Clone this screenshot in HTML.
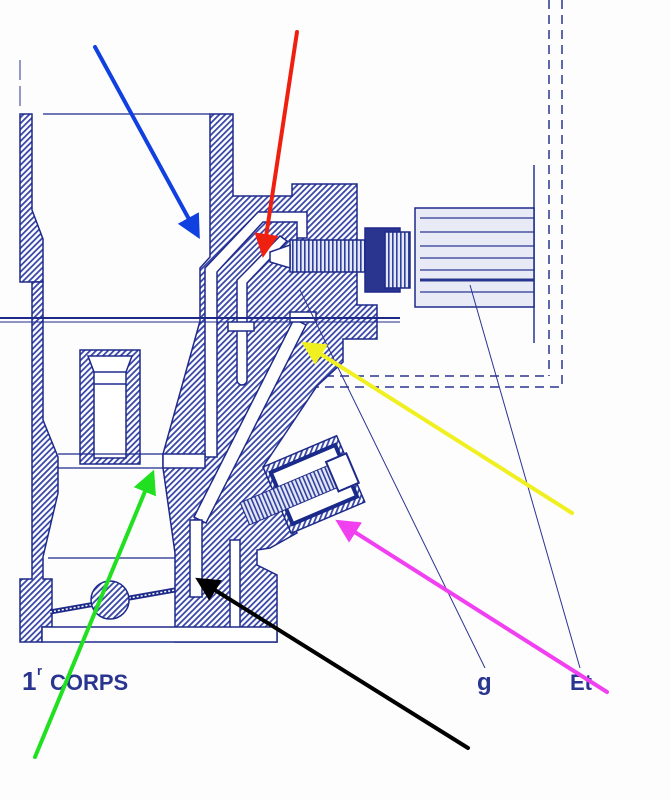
<!DOCTYPE html>
<html><head><style>body{margin:0;background:#fff}svg{display:block}</style></head><body>
<svg width="671" height="800" viewBox="0 0 671 800" xmlns="http://www.w3.org/2000/svg">
<defs>
<pattern id="h" width="4.2" height="4.2" patternUnits="userSpaceOnUse" patternTransform="rotate(45)">
<rect width="4.2" height="4.2" fill="#fff"/><rect width="1.8" height="4.2" fill="#3a48a8"/></pattern>
<pattern id="s" width="4" height="4" patternUnits="userSpaceOnUse">
<rect width="4" height="4" fill="#e4e7f4"/><rect width="1.6" height="4" fill="#3040a0"/></pattern>
<marker id="a" markerWidth="6" markerHeight="6" refX="4" refY="3" orient="auto"><path d="M0,0L6,3L0,6z" fill="context-stroke"/></marker>
</defs>
<rect width="671" height="800" fill="#fdfdfe"/>
<g stroke="#2a3590" stroke-width="1.5" fill="none" stroke-dasharray="9,6">
<line x1="549" y1="0" x2="549" y2="376"/><line x1="562" y1="0" x2="562" y2="387"/>
<line x1="250" y1="376" x2="549" y2="376"/><line x1="250" y1="387" x2="562" y2="387"/>
</g>
<line x1="534" y1="165" x2="534" y2="343" stroke="#2a3590" stroke-width="1.5"/>
<line x1="20" y1="60" x2="20" y2="110" stroke="#2a3590" stroke-width="1" stroke-dasharray="20,6"/>
<g stroke="#1e2a8a" stroke-width="1.5" fill="url(#h)">
<!-- left wall upper -->
<polygon points="20,114 32,114 32,210 43,239 43,282 32,282 20,282"/>
<!-- left wall lower -->
<polygon points="32,282 43,282 43,420 58,457 58,493 43,557 43,579 52,579 52,627 42,627 42,642 20,642 20,579 32,579"/>
<!-- main body -->
<polygon points="210,114 233,114 233,196 292,196 292,184 357,184 357,305 377,305 377,339 343,339 343,362 317,386 263,467 297,533 270,548 257,550 257,565 277,575 277,642 175,642 175,553 163,468 163,454 200,321 200,268 210,257"/>
<!-- small venturi -->
<polygon points="80,350 140,350 140,464 80,464"/>
</g>
<g stroke="#1e2a8a" stroke-width="1.5" fill="#fff">
<polygon points="88,356 132,356 126,372 126,458 94,458 94,372"/>
<line x1="94" y1="372" x2="126" y2="372"/>
<line x1="94" y1="384" x2="126" y2="384"/>
<!-- channels -->
<path d="M205,457 L205,268 L258,212 L307,212 L307,238 L297,238 L297,222 L263,222 L217,272 L217,457 Z"/>
<path d="M237,280 L247,270 L280,236 L287,241 L247,283 L247,380 A5,5 0 0 1 237,380 Z"/>
<polygon points="194,517 294,319 306,325 206,523"/>
<rect x="190" y="520" width="12" height="77"/>
<rect x="230" y="540" width="10" height="88"/>
<rect x="163" y="454" width="42" height="14"/>
<rect x="42" y="627" width="235" height="15"/>
<rect x="228" y="322" width="26" height="9"/>
<rect x="290" y="312" width="26" height="10"/>
</g>
<g stroke="#1e2a8a" stroke-width="1.3">
<line x1="58" y1="454" x2="163" y2="454"/>
<line x1="58" y1="468" x2="163" y2="468"/>
<line x1="48" y1="558" x2="175" y2="558"/>
<line x1="43" y1="114" x2="210" y2="114"/>
<line x1="0" y1="318" x2="400" y2="318" stroke-width="2"/>
<line x1="0" y1="322" x2="400" y2="322" stroke-width="1"/>
</g>
<!-- pump -->
<g transform="translate(263,467) rotate(-23)">
<rect x="0" y="0" width="80" height="72" fill="url(#h)" stroke="#1e2a8a" stroke-width="1.5"/>
<rect x="5" y="8" width="70" height="56" fill="#fff" stroke="#1a2a8a" stroke-width="4"/>
<rect x="-35" y="24" width="95" height="24" fill="url(#s)" stroke="#1e2a8a"/>
<rect x="60" y="20" width="22" height="32" fill="#fff" stroke="#1e2a8a" stroke-width="2"/>
</g>
<!-- screw assembly & cylinder -->
<g stroke="#1e2a8a" stroke-width="1.5">
<rect x="290" y="240" width="75" height="32" fill="url(#s)"/>
<polygon points="270,252 290,245 290,268 270,262" fill="#fff"/>
<rect x="365" y="228" width="35" height="64" fill="#2a3590"/>
<rect x="385" y="232" width="25" height="56" fill="url(#s)"/>
<rect x="415" y="208" width="119" height="99" fill="#e8ebf5"/>
</g>
<g stroke="#2a3590" stroke-width="1.3">
<line x1="420" y1="218" x2="534" y2="218"/><line x1="420" y1="232" x2="534" y2="232"/>
<line x1="420" y1="246" x2="534" y2="246"/><line x1="420" y1="258" x2="534" y2="258"/>
<line x1="420" y1="270" x2="534" y2="270"/><line x1="420" y1="280" x2="534" y2="280" stroke-width="3"/>
<line x1="420" y1="292" x2="534" y2="292"/>
</g>
<line x1="50" y1="612" x2="175" y2="590" stroke="#1e2a8a" stroke-width="5"/>
<line x1="50" y1="612" x2="175" y2="590" stroke="#fff" stroke-width="1.5" stroke-dasharray="2,2"/>
<circle cx="110" cy="600" r="19" fill="url(#h)" stroke="#1e2a8a" stroke-width="1.5"/>
<line x1="485" y1="668" x2="300" y2="290" stroke="#2a3590" stroke-width="1"/>
<line x1="580" y1="668" x2="470" y2="285" stroke="#2a3590" stroke-width="1"/>
<g font-family="Liberation Sans, sans-serif" font-weight="bold" fill="#2a3590">
<text x="22" y="690" font-size="26">1</text><text x="37" y="675" font-size="13">r</text>
<text x="50" y="690" font-size="22">CORPS</text>
<text x="477" y="690" font-size="24">g</text>
<text x="570" y="690" font-size="22">Et</text>
</g>
<g stroke-width="4" fill="none" stroke-linecap="round">
<line x1="95" y1="47" x2="196" y2="232" stroke="#1040e0" marker-end="url(#a)"/>
<line x1="297" y1="32" x2="264" y2="250" stroke="#f02010" marker-end="url(#a)"/>
<line x1="572" y1="513" x2="308" y2="346" stroke="#f0f020" marker-end="url(#a)"/>
<line x1="607" y1="692" x2="342" y2="524" stroke="#f040f0" marker-end="url(#a)"/>
<line x1="468" y1="748" x2="202" y2="582" stroke="#000" marker-end="url(#a)"/>
<line x1="35" y1="757" x2="151" y2="477" stroke="#20e020" marker-end="url(#a)"/>
</g>
</svg>
</body></html>
